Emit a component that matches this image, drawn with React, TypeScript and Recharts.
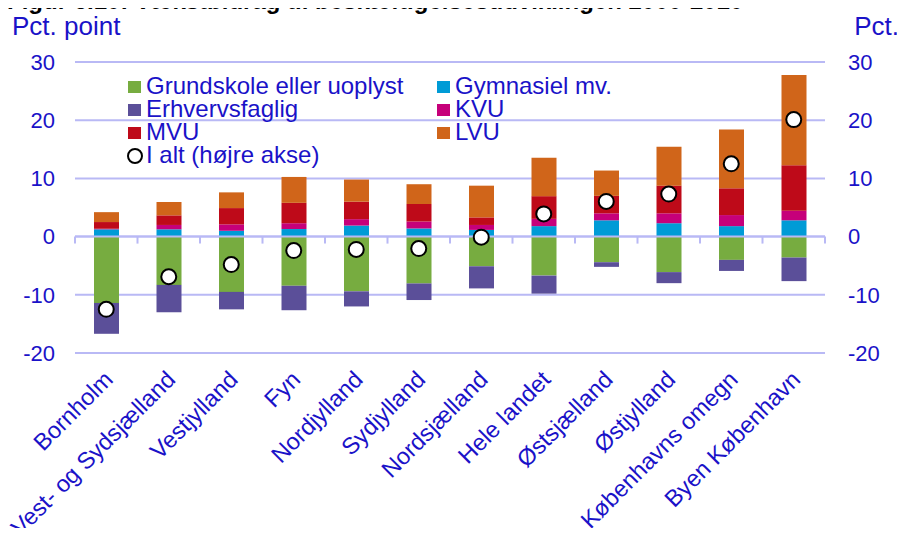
import React from 'react';
import {
  ComposedChart,
  Bar,
  Line,
  XAxis,
  YAxis,
  CartesianGrid,
  ReferenceLine,
} from 'recharts';

const categories = [
  'Bornholm',
  'Vest- og Sydsjælland',
  'Vestjylland',
  'Fyn',
  'Nordjylland',
  'Sydjylland',
  'Nordsjælland',
  'Hele landet',
  'Østsjælland',
  'Østjylland',
  'Københavns omegn',
  'Byen København',
];

const grundskole = [-11.4, -8.3, -9.5, -8.45, -9.4, -8.05, -5.1, -6.7, -4.4, -6.1, -4.0, -3.6];
const erhverv = [-5.3, -4.7, -3.0, -4.2, -2.6, -2.85, -3.8, -3.1, -0.8, -1.9, -1.9, -4.05];
const gymnasiel = [1.25, 1.25, 1.0, 1.3, 1.9, 1.4, 1.15, 1.8, 2.8, 2.3, 1.8, 2.8];
const kvu = [0.1, 0.75, 1.1, 1.0, 1.1, 1.2, 0.85, 1.25, 1.2, 1.7, 1.9, 1.65];
const mvu = [1.15, 1.65, 2.8, 3.5, 3.0, 3.0, 1.3, 3.9, 3.0, 4.75, 4.6, 7.8];
const lvu = [1.7, 2.3, 2.7, 4.45, 3.8, 3.4, 5.45, 6.6, 4.35, 6.7, 10.1, 15.5];
const iAlt = [-12.5, -6.9, -4.8, -2.4, -2.2, -2.05, -0.1, 3.9, 6.05, 7.3, 12.5, 20.1];

const yTicks = [-20, -10, 0, 10, 20, 30];

const data = categories.map((name, i) => ({
  name,
  grundskole: grundskole[i],
  erhverv: erhverv[i],
  gymnasiel: gymnasiel[i],
  kvu: kvu[i],
  mvu: mvu[i],
  lvu: lvu[i],
  iAlt: iAlt[i],
}));

const FONT = "'Liberation Sans', Arial, sans-serif";
const TEXT = '#1a12c8';
const GRID = '#b9b9f5';

const colors = {
  grundskole: '#77ac40',
  erhverv: '#5b4f99',
  gymnasiel: '#009bd6',
  kvu: '#c6007a',
  mvu: '#be0a19',
  lvu: '#d0651a',
};

const legendLeft = [
  { label: 'Grundskole eller uoplyst', color: colors.grundskole },
  { label: 'Erhvervsfaglig', color: colors.erhverv },
  { label: 'MVU', color: colors.mvu },
];
const legendRight = [
  { label: 'Gymnasiel mv.', color: colors.gymnasiel },
  { label: 'KVU', color: colors.kvu },
  { label: 'LVU', color: colors.lvu },
];

const XTick = (props: any) => {
  const { x, y, payload } = props;
  const ax = x + 8;
  const ay = y + 26;
  return (
    <text
      x={ax}
      y={ay}
      textAnchor="end"
      fill={TEXT}
      fontSize={23.5}
      fontFamily={FONT}
      transform={`rotate(-45, ${ax}, ${ay})`}
    >
      {payload.value}
    </text>
  );
};

// zero line with small tick marks at the category boundaries
const ZeroLine = (props: any) => {
  const { x1, y1, x2 } = props;
  const n = categories.length;
  const step = (x2 - x1) / n;
  const marks = [];
  for (let i = 0; i <= n; i++) {
    const x = x1 + i * step;
    marks.push(<line key={i} x1={x} y1={y1} x2={x} y2={y1 + 7} stroke={GRID} strokeWidth={2} />);
  }
  return (
    <g>
      <line x1={x1} y1={y1} x2={x2} y2={y1} stroke={GRID} strokeWidth={2} />
      {marks}
    </g>
  );
};

const legendText: React.CSSProperties = {
  position: 'absolute',
  fontSize: 24,
  lineHeight: '23px',
  color: TEXT,
  whiteSpace: 'nowrap',
};

const App = () => {
  return (
    <div style={{ position: 'relative', width: 905, height: 536, margin: -8, fontFamily: FONT, overflow: 'hidden' }}>
      <div
        style={{
          position: 'absolute',
          left: 7,
          top: -11,
          fontSize: 24,
          fontWeight: 'bold',
          lineHeight: '24px',
          color: '#000',
          whiteSpace: 'nowrap',
        }}
      >
        Figur 6.10: Vækstbidrag til beskæftigelsesudviklingen 2000-2010
      </div>
      <div style={{ position: 'absolute', left: 12, top: 11, fontSize: 26, color: TEXT, whiteSpace: 'nowrap' }}>
        Pct. point
      </div>
      <div style={{ position: 'absolute', right: 6, top: 11, fontSize: 26, color: TEXT, whiteSpace: 'nowrap' }}>
        Pct.
      </div>

      <ComposedChart
        width={905}
        height={536}
        data={data}
        stackOffset="sign"
        margin={{ top: 62, right: 20, left: 15, bottom: 33 }}
      >
        <CartesianGrid vertical={false} stroke={GRID} strokeWidth={2} yAxisId="left" />
        <XAxis
          dataKey="name"
          axisLine={false}
          tickLine={false}
          tickSize={0}
          height={150}
          interval={0}
          tick={<XTick />}
        />
        <YAxis
          yAxisId="left"
          domain={[-20, 30]}
          ticks={yTicks}
          width={60}
          axisLine={false}
          tickLine={false}
          tickSize={0}
          tickMargin={20}
          tick={{ fill: TEXT, fontSize: 22, fontFamily: FONT }}
        />
        <YAxis
          yAxisId="right"
          orientation="right"
          domain={[-20, 30]}
          ticks={yTicks}
          width={60}
          axisLine={false}
          tickLine={false}
          tickSize={0}
          tickMargin={23}
          tick={{ fill: TEXT, fontSize: 22, fontFamily: FONT, textAnchor: 'start' }}
        />
        <ReferenceLine y={0} yAxisId="left" shape={<ZeroLine />} />
        <Bar dataKey="grundskole" stackId="a" yAxisId="left" fill={colors.grundskole} barSize={25} isAnimationActive={false} />
        <Bar dataKey="erhverv" stackId="a" yAxisId="left" fill={colors.erhverv} barSize={25} isAnimationActive={false} />
        <Bar dataKey="gymnasiel" stackId="a" yAxisId="left" fill={colors.gymnasiel} barSize={25} isAnimationActive={false} />
        <Bar dataKey="kvu" stackId="a" yAxisId="left" fill={colors.kvu} barSize={25} isAnimationActive={false} />
        <Bar dataKey="mvu" stackId="a" yAxisId="left" fill={colors.mvu} barSize={25} isAnimationActive={false} />
        <Bar dataKey="lvu" stackId="a" yAxisId="left" fill={colors.lvu} barSize={25} isAnimationActive={false} />
        <Line
          dataKey="iAlt"
          yAxisId="right"
          stroke="none"
          dot={{ r: 7.5, fill: '#fff', stroke: '#000', strokeWidth: 2 }}
          activeDot={false}
          isAnimationActive={false}
        />
      </ComposedChart>

      {legendLeft.map((item, i) => (
        <React.Fragment key={item.label}>
          <div style={{ position: 'absolute', left: 128, top: 81 + i * 23, width: 13, height: 12, background: item.color }} />
          <div style={{ ...legendText, left: 146, top: 74 + i * 23 }}>{item.label}</div>
        </React.Fragment>
      ))}
      {legendRight.map((item, i) => (
        <React.Fragment key={item.label}>
          <div style={{ position: 'absolute', left: 437, top: 81 + i * 23, width: 13, height: 12, background: item.color }} />
          <div style={{ ...legendText, left: 455, top: 74 + i * 23 }}>{item.label}</div>
        </React.Fragment>
      ))}
      <div
        style={{
          position: 'absolute',
          left: 127,
          top: 148,
          width: 12,
          height: 12,
          borderRadius: '50%',
          border: '2px solid #000',
          background: '#fff',
        }}
      />
      <div style={{ ...legendText, left: 146, top: 143 }}>I alt (højre akse)</div>
    </div>
  );
};

export default App;
